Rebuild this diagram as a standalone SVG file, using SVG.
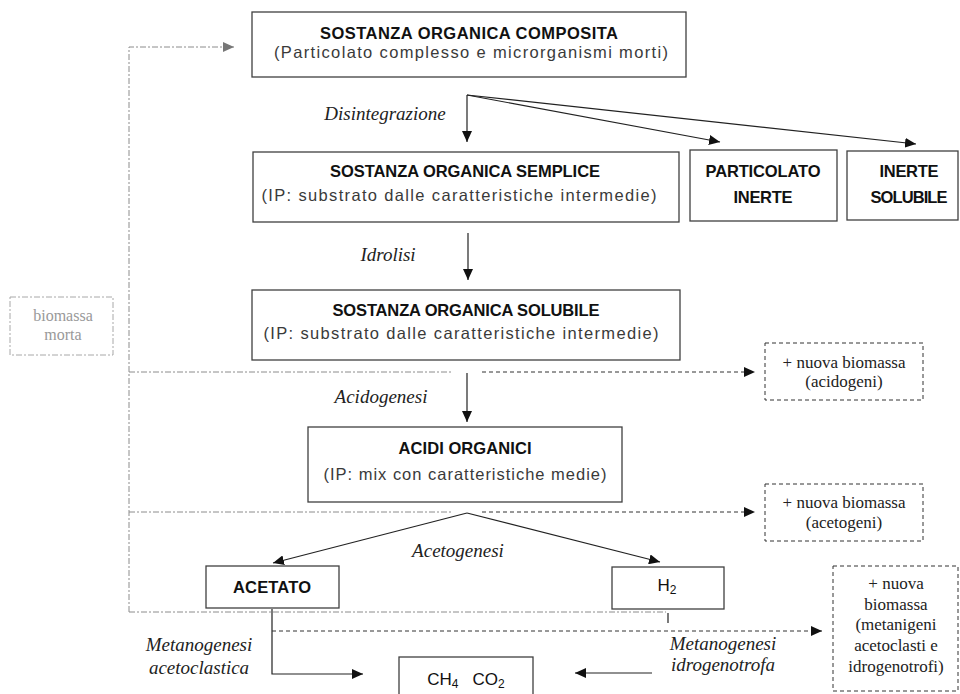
<svg xmlns="http://www.w3.org/2000/svg" width="960" height="694" viewBox="0 0 960 694">
<style>
.box{fill:#fff;stroke:#404040;stroke-width:1.3}
.dbox{fill:#fff;stroke:#333;stroke-width:1;stroke-dasharray:4 3}
.gbox{fill:#fff;stroke:#a8a8a8;stroke-width:1;stroke-dasharray:6 2 2 2}
.t{font-family:"Liberation Sans",Arial,sans-serif;font-weight:bold;font-size:16.5px;fill:#111;text-anchor:middle}
.f{font-family:"Liberation Sans",Arial,sans-serif;font-size:17px;fill:#111;text-anchor:middle}
.s{font-family:"Liberation Sans",Arial,sans-serif;font-size:16.5px;fill:#3a3a3a;text-anchor:middle}
.i{font-family:"Liberation Serif","Times New Roman",serif;font-style:italic;font-size:19px;fill:#222;text-anchor:middle}
.n{font-family:"Liberation Serif","Times New Roman",serif;font-size:17px;fill:#222;text-anchor:middle}
.g{font-family:"Liberation Serif","Times New Roman",serif;font-size:16px;fill:#999;text-anchor:middle}
.ln{fill:none;stroke:#222;stroke-width:1.2}
.dd{fill:none;stroke:#333;stroke-width:1;stroke-dasharray:4 3}
.dg{fill:none;stroke:#8c8c8c;stroke-width:1;stroke-dasharray:6 2 2 2}
</style>
<defs>
<marker id="ah" markerUnits="userSpaceOnUse" markerWidth="12" markerHeight="10" refX="11" refY="5" orient="auto"><path d="M0,0 L11,5 L0,10 Z" fill="#111"/></marker>
<marker id="ahg" markerUnits="userSpaceOnUse" markerWidth="12" markerHeight="10" refX="11" refY="5" orient="auto"><path d="M0,0 L11,5 L0,10 Z" fill="#777"/></marker>
</defs>

<g id="connectors">
<polyline class="dg" points="129,612 129,47 234,47" marker-end="url(#ahg)"/>
<polyline class="ln" points="467,95 467,142" marker-end="url(#ah)"/>
<line class="ln" x1="467" y1="95" x2="720" y2="142" marker-end="url(#ah)"/>
<line class="ln" x1="467" y1="95" x2="916" y2="144" marker-end="url(#ah)"/>
<line class="ln" x1="468" y1="233" x2="468" y2="280" marker-end="url(#ah)"/>
<line class="dg" x1="129" y1="372" x2="453" y2="372"/>
<line class="dd" x1="482" y1="372" x2="755" y2="372" marker-end="url(#ah)"/>
<line class="ln" x1="467" y1="373" x2="467" y2="422" marker-end="url(#ah)"/>
<line class="dg" x1="129" y1="512" x2="453" y2="512"/>
<line class="dd" x1="482" y1="512" x2="755" y2="512" marker-end="url(#ah)"/>
<line class="ln" x1="467" y1="513" x2="273" y2="563" marker-end="url(#ah)"/>
<line class="ln" x1="467" y1="513" x2="660" y2="562" marker-end="url(#ah)"/>
<line class="dg" x1="129" y1="612" x2="666" y2="612"/>
<line class="ln" x1="668" y1="613" x2="668" y2="623"/>
<polyline class="ln" points="272,609 272,674 363,674" marker-end="url(#ah)"/>
<line class="dd" x1="272" y1="631" x2="822" y2="631" marker-end="url(#ah)"/>
<line class="ln" x1="652" y1="673" x2="575" y2="673" marker-end="url(#ah)"/>
</g>

<g id="composita">
<rect class="box" x="252" y="12" width="434" height="65"/>
<text class="t" x="469" y="39" textLength="298" lengthAdjust="spacing">SOSTANZA ORGANICA COMPOSITA</text>
<text class="s" x="471" y="58" textLength="394" lengthAdjust="spacing">(Particolato complesso e microrganismi morti)</text>
</g>
<text class="i" x="385" y="120">Disintegrazione</text>

<g id="semplice">
<rect class="box" x="253" y="152" width="426" height="70"/>
<text class="t" x="465" y="177" textLength="270" lengthAdjust="spacing">SOSTANZA ORGANICA SEMPLICE</text>
<text class="s" x="459" y="201" textLength="395" lengthAdjust="spacing">(IP: substrato dalle caratteristiche intermedie)</text>
</g>
<g id="particolato">
<rect class="box" x="690" y="150" width="147" height="71"/>
<text class="t" x="763" y="177" textLength="115" lengthAdjust="spacing">PARTICOLATO</text>
<text class="t" x="763" y="203" textLength="59" lengthAdjust="spacing">INERTE</text>
</g>
<g id="inerte">
<rect class="box" x="847" y="151" width="111" height="69"/>
<text class="t" x="909" y="177" textLength="59" lengthAdjust="spacing">INERTE</text>
<text class="t" x="909" y="203" textLength="77" lengthAdjust="spacing">SOLUBILE</text>
</g>
<text class="i" x="388" y="261">Idrolisi</text>

<g id="solubile">
<rect class="box" x="252" y="290" width="428" height="70"/>
<text class="t" x="466" y="316" textLength="267" lengthAdjust="spacing">SOSTANZA ORGANICA SOLUBILE</text>
<text class="s" x="461" y="339" textLength="395" lengthAdjust="spacing">(IP: substrato dalle caratteristiche intermedie)</text>
</g>

<g id="biomassa-morta">
<rect class="gbox" x="10" y="297" width="103" height="58"/>
<text class="g" x="63" y="321">biomassa</text>
<text class="g" x="63" y="340">morta</text>
</g>

<g id="acidogeni">
<rect class="dbox" x="765" y="343" width="158" height="57"/>
<text class="n" x="844" y="368">+ nuova biomassa</text>
<text class="n" x="844" y="387">(acidogeni)</text>
</g>
<text class="i" x="381" y="403">Acidogenesi</text>

<g id="acidi">
<rect class="box" x="308" y="427" width="314" height="75"/>
<text class="t" x="465" y="454" textLength="133" lengthAdjust="spacing">ACIDI ORGANICI</text>
<text class="s" x="465" y="480" textLength="283" lengthAdjust="spacing">(IP: mix con caratteristiche medie)</text>
</g>

<g id="acetogeni">
<rect class="dbox" x="765" y="484" width="158" height="57"/>
<text class="n" x="844" y="508">+ nuova biomassa</text>
<text class="n" x="844" y="528">(acetogeni)</text>
</g>
<text class="i" x="458" y="557">Acetogenesi</text>

<g id="acetato">
<rect class="box" x="206" y="566" width="133" height="42"/>
<text class="t" x="272" y="593" textLength="78" lengthAdjust="spacing">ACETATO</text>
</g>
<g id="h2">
<rect class="box" x="612" y="567" width="112" height="42"/>
<text class="f" x="667" y="591">H<tspan font-size="12" dy="3">2</tspan></text>
</g>

<g id="metanigeni">
<rect class="dbox" x="833" y="566" width="125" height="125"/>
<text class="n" x="896" y="589">+ nuova</text>
<text class="n" x="896" y="610">biomassa</text>
<text class="n" x="896" y="630">(metanigeni</text>
<text class="n" x="896" y="651">acetoclasti e</text>
<text class="n" x="896" y="672">idrogenotrofi)</text>
</g>

<text class="i" x="199" y="651">Metanogenesi</text>
<text class="i" x="199" y="674">acetoclastica</text>
<text class="i" x="723" y="650">Metanogenesi</text>
<text class="i" x="723" y="671">idrogenotrofa</text>

<g id="ch4-co2">
<rect class="box" x="399" y="657" width="134" height="45"/>
<text class="f" x="466" y="685">CH<tspan font-size="12" dy="3">4</tspan><tspan dy="-3" dx="14">CO</tspan><tspan font-size="12" dy="3">2</tspan></text>
</g>
</svg>
